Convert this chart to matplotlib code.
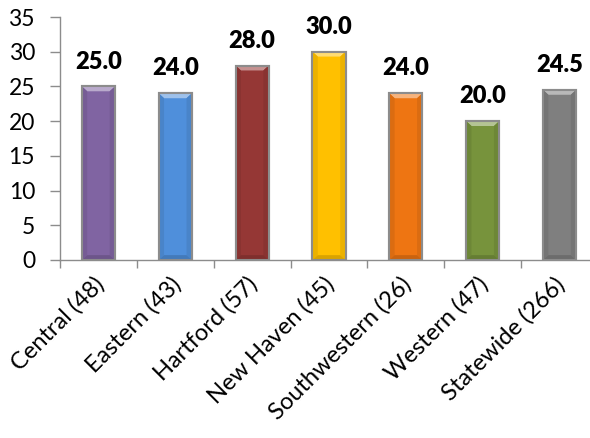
import matplotlib
matplotlib.use("Agg")
import matplotlib.pyplot as plt
from matplotlib.patches import Polygon
from matplotlib.colors import to_rgb
import matplotlib.transforms as mtransforms
import numpy as np

categories = ["Central (48)", "Eastern (43)", "Hartford (57)", "New Haven (45)",
              "Southwestern (26)", "Western (47)", "Statewide (266)"]
values = [25.0, 24.0, 28.0, 30.0, 24.0, 20.0, 24.5]
colors = ["#8064A2", "#4F8FDB", "#953735", "#FFC000", "#EE7512", "#77933C", "#7F7F7F"]
y_ticks = [0, 5, 10, 15, 20, 25, 30, 35]

plt.rcParams["font.family"] = ["Lato", "DejaVu Sans"]

fig = plt.figure(figsize=(5.9, 4.38), dpi=100)
ax = fig.add_axes([60 / 590, 1 - 260 / 438, 538 / 590, 243 / 438])

x = np.arange(len(categories))
width = 0.43
bars = ax.bar(x, values, width=width, color=colors, edgecolor="#8C8C8C",
              linewidth=1.5, zorder=2)


def mix(c, other, t):
    a = np.array(to_rgb(c))
    b = np.array(to_rgb(other))
    return tuple(a * (1 - t) + b * t)


# bevelled look: light top facet, darker side facets
for b, c in zip(bars, colors):
    x0, w, h = b.get_x(), b.get_width(), b.get_height()
    bev_x = w * 0.16
    bev_y = 0.7
    top = Polygon([[x0, h], [x0 + w, h], [x0 + w - bev_x, h - bev_y], [x0 + bev_x, h - bev_y]],
                  closed=True, facecolor=mix(c, "white", 0.45), edgecolor="none", zorder=3)
    left = Polygon([[x0, 0], [x0, h], [x0 + bev_x, h - bev_y], [x0 + bev_x, bev_y]],
                   closed=True, facecolor=mix(c, "black", 0.08), edgecolor="none", zorder=3)
    right = Polygon([[x0 + w, 0], [x0 + w, h], [x0 + w - bev_x, h - bev_y], [x0 + w - bev_x, bev_y]],
                    closed=True, facecolor=mix(c, "black", 0.08), edgecolor="none", zorder=3)
    bottom = Polygon([[x0, 0], [x0 + w, 0], [x0 + w - bev_x, bev_y], [x0 + bev_x, bev_y]],
                     closed=True, facecolor=mix(c, "black", 0.15), edgecolor="none", zorder=3)
    for p in (top, left, right, bottom):
        ax.add_patch(p)
    ax.add_patch(plt.Rectangle((x0, 0), w, h, fill=False, edgecolor="#8C8C8C",
                               linewidth=1.5, zorder=4))

for xi, v in zip(x, values):
    ax.annotate(f"{v:.1f}", (xi, v), xytext=(0, 10), textcoords="offset points",
                ha="center", va="bottom", fontsize=17, fontweight="heavy", color="black")

ax.set_xlim(-0.5, len(categories) - 0.5)
ax.set_ylim(0, 35)
ax.set_yticks(y_ticks)
ax.set_yticklabels([str(t) for t in y_ticks], fontsize=16.5)

ax.set_xticks(x)
ax.set_xticklabels(categories, rotation=45, ha="right", va="center",
                   rotation_mode="anchor", fontsize=17)
ax.tick_params(axis="x", which="major", length=0, pad=15)
shift = mtransforms.ScaledTranslation(2 / 100, 0, fig.dpi_scale_trans)
for lbl in ax.get_xticklabels():
    lbl.set_transform(lbl.get_transform() + shift)
ax.set_xticks(np.arange(len(categories) + 1) - 0.5, minor=True)
ax.tick_params(axis="x", which="minor", length=6, color="#8C8C8C", width=1)
ax.tick_params(axis="y", length=7, color="#8C8C8C", width=1, pad=11)

for s in ("top", "right"):
    ax.spines[s].set_visible(False)
for s in ("left", "bottom"):
    ax.spines[s].set_color("#8C8C8C")
    ax.spines[s].set_linewidth(1)

fig.savefig("out.png", dpi=100)
